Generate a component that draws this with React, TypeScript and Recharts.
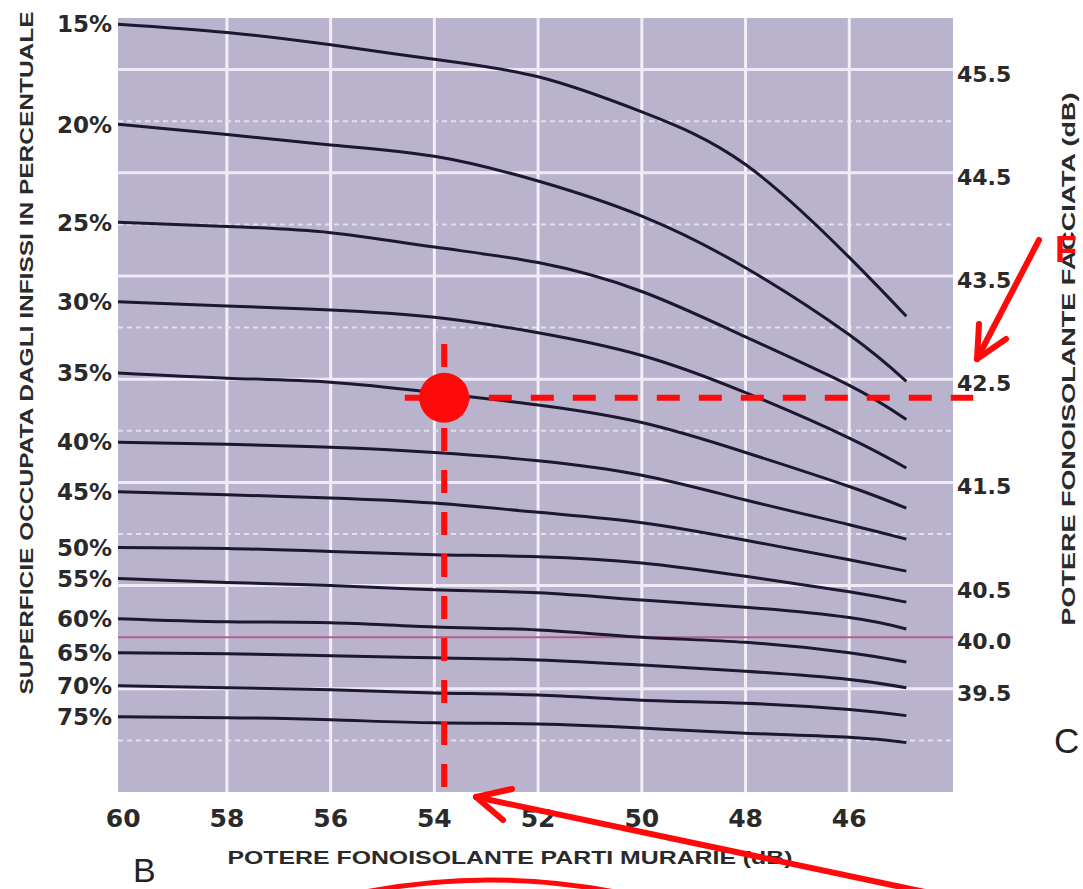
import React from 'react';
import { LineChart, Line, XAxis, YAxis, ReferenceLine, ReferenceArea, ReferenceDot } from 'recharts';

// x positions (dB, façade walls) at which the curves were read
const xValues = [60.1, 58, 56, 54, 52, 50, 48, 46, 44.9];
const percentLabels = ['15%', '20%', '25%', '30%', '35%', '40%', '45%', '50%', '55%', '60%', '65%', '70%', '75%'];

const curve15 = [45.94, 45.86, 45.74, 45.6, 45.43, 45.09, 44.58, 43.68, 43.11];
const curve20 = [44.97, 44.87, 44.77, 44.66, 44.42, 44.08, 43.58, 42.93, 42.48];
const curve25 = [44.02, 43.98, 43.92, 43.78, 43.63, 43.35, 42.91, 42.44, 42.11];
const curve30 = [43.25, 43.21, 43.17, 43.1, 42.95, 42.73, 42.37, 41.93, 41.64];
const curve35 = [42.56, 42.51, 42.47, 42.37, 42.25, 42.08, 41.79, 41.46, 41.25];
const curve40 = [41.89, 41.87, 41.84, 41.79, 41.71, 41.57, 41.33, 41.09, 40.95];
const curve45 = [41.41, 41.38, 41.35, 41.3, 41.21, 41.11, 40.94, 40.75, 40.64];
const curve50 = [40.87, 40.86, 40.83, 40.8, 40.78, 40.72, 40.59, 40.44, 40.34];
const curve55 = [40.57, 40.53, 40.5, 40.46, 40.43, 40.36, 40.29, 40.19, 40.08];
const curve60 = [40.18, 40.15, 40.14, 40.1, 40.07, 40.0, 39.95, 39.85, 39.76];
const curve65 = [39.85, 39.84, 39.82, 39.8, 39.78, 39.73, 39.67, 39.59, 39.51];
const curve70 = [39.53, 39.51, 39.49, 39.46, 39.44, 39.39, 39.36, 39.3, 39.24];
const curve75 = [39.23, 39.22, 39.2, 39.17, 39.16, 39.12, 39.07, 39.03, 38.98];

const curves = [curve15, curve20, curve25, curve30, curve35, curve40, curve45, curve50, curve55, curve60, curve65, curve70, curve75];

const xTicks = [60, 58, 56, 54, 52, 50, 48, 46];
const rightTicks = [45.5, 44.5, 43.5, 42.5, 41.5, 40.5, 40.0, 39.5];
const solidGrid = [45.5, 44.5, 43.5, 42.5, 41.5, 40.5, 39.5];
const dashedGrid = [45, 44, 43, 42, 41, 39];
const highlightLine = 40.0;
const verticalGrid = [58, 56, 54, 52, 50, 48, 46];

// red annotation (reading example)
const markerX = 53.81;
const markerY = 42.32;
const hLineFromX = 54.57;
const hLineToX = 43.61;
const vLineFromY = 42.84;

const X_DOMAIN: [number, number] = [44, 60.1];
const Y_DOMAIN: [number, number] = [38.5, 46];

const startValues = curves.map((c) => c[0]);

const data = xValues.map((x, i) => {
  const row: Record<string, number> = { x };
  curves.forEach((c, j) => {
    row['c' + j] = c[i];
  });
  return row;
});

const TXT = '#2a2a2a';
const RED = '#ff0a0a';
const TICK_FONT = '"DejaVu Sans", sans-serif';

const LeftTick = (props: any) => {
  const { x, y, payload } = props;
  const idx = startValues.indexOf(payload.value);
  return (
    <text x={x} y={y} dy="0.36em" textAnchor="end" fontFamily={TICK_FONT} fontWeight="bold" fontSize={23} fill={TXT}>
      {idx >= 0 ? percentLabels[idx] : ''}
    </text>
  );
};

const RightTick = (props: any) => {
  const { x, y, payload } = props;
  return (
    <text x={x} y={y + 4} dy="0.36em" textAnchor="start" fontFamily={TICK_FONT} fontWeight="bold" fontSize={22} fill={TXT}>
      {Number(payload.value).toFixed(1)}
    </text>
  );
};

const BottomTick = (props: any) => {
  const { x, y, payload } = props;
  return (
    <text x={x} y={y} dy="0.36em" textAnchor="middle" fontFamily={TICK_FONT} fontWeight="bold" fontSize={25} fill={TXT}>
      {payload.value}
    </text>
  );
};

export default function App() {
  return (
    <div style={{ position: 'absolute', left: 0, top: 0, width: 1083, height: 889, background: '#ffffff', overflow: 'hidden' }}>
      <LineChart width={1083} height={889} data={data} margin={{ top: 18, right: 60, bottom: 57, left: 8 }}>
        <XAxis
          dataKey="x"
          type="number"
          domain={X_DOMAIN}
          reversed
          ticks={xTicks}
          interval={0}
          allowDataOverflow
          axisLine={false}
          tickLine={false}
          tickSize={0}
          tickMargin={26}
          height={40}
          tick={<BottomTick />}
        />
        <YAxis
          yAxisId="left"
          type="number"
          domain={Y_DOMAIN}
          ticks={startValues}
          interval={0}
          allowDataOverflow
          axisLine={false}
          tickLine={false}
          tickSize={0}
          tickMargin={6}
          width={110}
          tick={<LeftTick />}
        />
        <YAxis
          yAxisId="right"
          orientation="right"
          type="number"
          domain={Y_DOMAIN}
          ticks={rightTicks}
          interval={0}
          allowDataOverflow
          axisLine={false}
          tickLine={false}
          tickSize={0}
          tickMargin={4}
          width={70}
          tick={<RightTick />}
        />
        <ReferenceArea yAxisId="left" x1={X_DOMAIN[0]} x2={X_DOMAIN[1]} y1={Y_DOMAIN[0]} y2={Y_DOMAIN[1]} fill="#bab3cd" fillOpacity={1} stroke="none" />
        {verticalGrid.map((v) => (
          <ReferenceLine key={'v' + v} yAxisId="left" x={v} stroke="#f3eff8" strokeWidth={3} />
        ))}
        {dashedGrid.map((v) => (
          <ReferenceLine key={'d' + v} yAxisId="left" y={v} stroke="#ebe6f3" strokeWidth={2} strokeDasharray="5 4" strokeOpacity={0.85} />
        ))}
        {solidGrid.map((v) => (
          <ReferenceLine key={'s' + v} yAxisId="left" y={v} stroke="#efeaf6" strokeWidth={3} />
        ))}
        <ReferenceLine yAxisId="left" y={highlightLine} stroke="#b0608f" strokeWidth={2} />
        {curves.map((_, j) => (
          <Line
            key={'c' + j}
            yAxisId="left"
            dataKey={'c' + j}
            type="natural"
            stroke="#1c1830"
            strokeWidth={3}
            dot={false}
            activeDot={false}
            isAnimationActive={false}
          />
        ))}
        <ReferenceLine
          yAxisId="left"
          segment={[{ x: hLineFromX, y: markerY }, { x: hLineToX, y: markerY }]}
          stroke={RED}
          strokeWidth={6}
          strokeDasharray="23 19"
          ifOverflow="visible"
        />
        <ReferenceLine
          yAxisId="left"
          segment={[{ x: markerX, y: vLineFromY }, { x: markerX, y: Y_DOMAIN[0] }]}
          stroke={RED}
          strokeWidth={6}
          strokeDasharray="23 19"
          ifOverflow="visible"
        />
        <ReferenceDot yAxisId="left" x={markerX} y={markerY} r={25} fill={RED} stroke="none" ifOverflow="visible" />
      </LineChart>
      <svg width={1083} height={889} style={{ position: 'absolute', left: 0, top: 0, pointerEvents: 'none' }}>
        <text
          x={510}
          y={864}
          textAnchor="middle"
          fontFamily='"Liberation Sans", Arial, sans-serif'
          fontWeight="bold"
          fontSize={18}
          fill={TXT}
          textLength={565}
          lengthAdjust="spacingAndGlyphs"
        >
          POTERE FONOISOLANTE PARTI MURARIE (dB)
        </text>
        <text
          transform="translate(33,353) rotate(-90)"
          textAnchor="middle"
          fontFamily='"Liberation Sans", Arial, sans-serif'
          fontWeight="bold"
          fontSize={18}
          fill={TXT}
          textLength={683}
          lengthAdjust="spacingAndGlyphs"
        >
          SUPERFICIE OCCUPATA DAGLI INFISSI IN PERCENTUALE
        </text>
        <text
          transform="translate(1075,359) rotate(-90)"
          textAnchor="middle"
          fontFamily='"Liberation Sans", Arial, sans-serif'
          fontWeight="bold"
          fontSize={19}
          fill={TXT}
          textLength={533}
          lengthAdjust="spacingAndGlyphs"
        >
          POTERE FONOISOLANTE FACCIATA (dB)
        </text>
        <text x={133} y={882} fontFamily='"Liberation Sans", Arial, sans-serif' fontSize={34} fill="#222">B</text>
        <text x={1054} y={753} fontFamily='"Liberation Sans", Arial, sans-serif' fontSize={35} fill="#222">C</text>
        <text x={1055} y={262} fontFamily='"Liberation Sans", Arial, sans-serif' fontWeight="bold" fontSize={36} fill={RED}>F</text>
        <g stroke={RED} strokeWidth={6} strokeLinecap="round" fill="none">
          <line x1={1039} y1={240} x2={977} y2={359} />
          <line x1={977} y1={359} x2={1006} y2={339} />
          <line x1={977} y1={359} x2={979} y2={324} />
          <line x1={925} y1={892} x2={476} y2={797} />
          <line x1={476} y1={797} x2={512} y2={789} />
          <line x1={476} y1={797} x2={503} y2={820} />
        </g>
        <path d="M 360 893 Q 490 867 620 893" stroke={RED} strokeWidth={5} fill="none" />
      </svg>
    </div>
  );
}
